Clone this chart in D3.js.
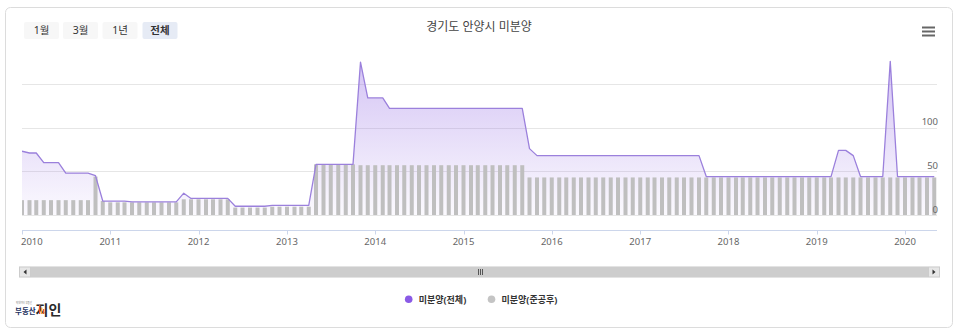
<!DOCTYPE html>
<html>
<head>
<meta charset="utf-8">
<script src="https://cdn.jsdelivr.net/npm/d3@7"></script>
<style>
  html, body { margin: 0; padding: 0; background: #fff; }
  svg { display: block; font-family: "Noto Sans", "Noto Sans CJK KR", sans-serif; }
</style>
</head>
<body>
<svg id="chart" width="960" height="336"></svg>
<script>
// ---- data -------------------------------------------------------------
const chartTitle = "경기도 안양시 미분양";
const rangeButtons = ["1월", "3월", "1년", "전체"];
const seriesNames = ["미분양(전체)", "미분양(준공후)"];

// monthly unsold housing units, 2010-01 .. 2020-05
const totalUnsold = [
  73, 71, 71, 60, 60, 60, 48, 48, 48, 48, 45, 16,          // 2010
  16, 16, 16, 15, 15, 15, 15, 15, 15, 15, 25, 19,          // 2011
  19, 19, 19, 19, 19, 10, 10, 10, 10, 10, 11, 11,          // 2012
  11, 11, 11, 11, 58, 58, 58, 58, 58, 58, 175, 134,        // 2013
  134, 134, 122, 122, 122, 122, 122, 122, 122, 122, 122, 122, // 2014
  122, 122, 122, 122, 122, 122, 122, 122, 122, 76, 68, 68, // 2015
  68, 68, 68, 68, 68, 68, 68, 68, 68, 68, 68, 68,          // 2016
  68, 68, 68, 68, 68, 68, 68, 68, 68, 44, 44, 44,          // 2017
  44, 44, 44, 44, 44, 44, 44, 44, 44, 44, 44, 44,          // 2018
  44, 44, 44, 74, 74, 68, 44, 44, 44, 44, 176, 44,         // 2019
  44, 44, 44, 44, 44                                       // 2020
];
const completedUnsold = [
  17, 17, 17, 17, 17, 17, 17, 17, 17, 17, 44, 16,          // 2010
  14.5, 14.5, 14.5, 14.5, 14.5, 14.5, 14.5, 14.5, 14.5, 14.5, 18, 18, // 2011
  18, 18, 18, 18, 18, 8.5, 8.5, 8.5, 8.5, 8.5, 9.5, 9.5,  // 2012
  9.5, 9.5, 9.5, 9.5, 58, 58, 58, 58, 58, 58, 57, 57,      // 2013
  57, 57, 57, 57, 57, 57, 57, 57, 57, 57, 57, 57,          // 2014
  57, 57, 57, 57, 57, 57, 57, 57, 57, 43, 43, 43,          // 2015
  43, 43, 43, 43, 43, 43, 43, 43, 43, 43, 43, 43,          // 2016
  43, 43, 43, 43, 43, 43, 43, 43, 43, 43, 43, 43,          // 2017
  43, 43, 43, 43, 43, 43, 43, 43, 43, 43, 43, 43,          // 2018
  43, 43, 43, 43, 43, 43, 43, 43, 43, 43, 43, 43,          // 2019
  43, 43, 43, 43, 43                                       // 2020
];
const yearTicks = [2010, 2011, 2012, 2013, 2014, 2015, 2016, 2017, 2018, 2019, 2020];
const yGridValues = [0, 50, 100, 150];
const yLabelValues = [0, 50, 100];

const months = d3.utcMonth.range(new Date(Date.UTC(2010, 0, 1)), new Date(Date.UTC(2020, 5, 1)));
const rows = months.map((m, i) => ({ date: m, total: totalUnsold[i], done: completedUnsold[i] }));

// ---- layout -----------------------------------------------------------
const svg = d3.select("#chart");
const plot = { left: 22, right: 937, top: 40, axisY: 230.5 };

const x = d3.scaleUtc()
  .domain([new Date(Date.UTC(2010, 0, 1)), new Date(Date.UTC(2020, 0, 1))])
  .range([22, 905]);
const y = d3.scaleLinear().domain([0, 150]).range([215, 84]);

// card
svg.append("rect")
  .attr("x", 5.5).attr("y", 7.5).attr("width", 947).attr("height", 320)
  .attr("rx", 5).attr("fill", "#fff").attr("stroke", "#dcdcdc");

// range selector buttons
const btnX = [24, 63, 102.5, 142.5];
rangeButtons.forEach((label, i) => {
  const selected = i === rangeButtons.length - 1;
  const g = svg.append("g").attr("transform", `translate(${btnX[i]},22)`);
  g.append("rect").attr("width", 35).attr("height", 17).attr("rx", 2)
    .attr("fill", selected ? "#e6ebf5" : "#f7f7f7");
  g.append("text").attr("x", 17.5).attr("y", 12.3).attr("text-anchor", "middle")
    .attr("font-size", 10.5).attr("font-weight", selected ? "bold" : "normal")
    .attr("fill", "#333").text(label);
});

// title
svg.append("text").attr("x", 479).attr("y", 31).attr("text-anchor", "middle")
  .attr("font-size", 12).attr("fill", "#444").text(chartTitle);

// context menu icon
[27.5, 31.5, 35.5].forEach(yy => {
  svg.append("line").attr("x1", 922).attr("x2", 935).attr("y1", yy).attr("y2", yy)
    .attr("stroke", "#666").attr("stroke-width", 2);
});

// gradient for the total area
const defs = svg.append("defs");
const grad = defs.append("linearGradient").attr("id", "areaFill")
  .attr("gradientUnits", "userSpaceOnUse")
  .attr("x1", 0).attr("x2", 0).attr("y1", y(175)).attr("y2", y(0));
grad.append("stop").attr("offset", 0).attr("stop-color", "#9a74e6").attr("stop-opacity", 0.42);
grad.append("stop").attr("offset", 1).attr("stop-color", "#9a74e6").attr("stop-opacity", 0.04);

defs.append("clipPath").attr("id", "plotClip").append("rect")
  .attr("x", plot.left).attr("y", plot.top)
  .attr("width", plot.right - plot.left).attr("height", plot.axisY - plot.top);

// grid lines
svg.append("g").selectAll("line").data(yGridValues).join("line")
  .attr("x1", plot.left).attr("x2", plot.right)
  .attr("y1", d => Math.round(y(d)) + 0.5).attr("y2", d => Math.round(y(d)) + 0.5)
  .attr("stroke", "#e6e6e6");

const layer = svg.append("g").attr("clip-path", "url(#plotClip)");

// total area
layer.append("path").datum(rows)
  .attr("fill", "url(#areaFill)")
  .attr("d", d3.area().x(d => x(d.date)).y0(y(0)).y1(d => y(d.total)));

// completed-unsold columns
layer.append("g").selectAll("rect").data(rows).join("rect")
  .attr("x", d => x(d.date) - 2).attr("width", 4)
  .attr("y", d => y(d.done)).attr("height", d => y(0) - y(d.done))
  .attr("fill", "#bfbfbf");

// total line
layer.append("path").datum(rows)
  .attr("fill", "none").attr("stroke", "#9b80dc").attr("stroke-width", 1.3)
  .attr("stroke-linejoin", "round")
  .attr("d", d3.line().x(d => x(d.date)).y(d => y(d.total)));

// y labels (right side)
svg.append("g").selectAll("text").data(yLabelValues).join("text")
  .attr("x", 938).attr("y", d => y(d) - 2.3).attr("text-anchor", "end")
  .attr("font-size", 9.5).attr("fill", "#666").text(d => d);

// x axis
svg.append("line").attr("x1", plot.left).attr("x2", plot.right)
  .attr("y1", plot.axisY).attr("y2", plot.axisY).attr("stroke", "#ccd6eb");
const yearDates = yearTicks.map(yr => new Date(Date.UTC(yr, 0, 1)));
svg.append("g").selectAll("line").data(yearDates).join("line")
  .attr("x1", d => Math.round(x(d)) + 0.5).attr("x2", d => Math.round(x(d)) + 0.5)
  .attr("y1", plot.axisY).attr("y2", plot.axisY + 4).attr("stroke", "#ccd6eb");
svg.append("g").selectAll("text").data(yearDates).join("text")
  .attr("x", (d, i) => i === 0 ? x(d) - 1 : x(d))
  .attr("y", 245)
  .attr("text-anchor", (d, i) => i === 0 ? "start" : "middle")
  .attr("font-size", 9.5).attr("fill", "#666")
  .text(d => d3.utcFormat("%Y")(d));

// scrollbar
const sb = svg.append("g");
sb.append("rect").attr("x", 19).attr("y", 266.5).attr("width", 921).attr("height", 11).attr("fill", "#f2f2f2");
sb.append("rect").attr("x", 31).attr("y", 266.5).attr("width", 897).attr("height", 11).attr("fill", "#cdcdcd");
sb.append("rect").attr("x", 19.5).attr("y", 267).attr("width", 11).attr("height", 10)
  .attr("fill", "#e6e6e6").attr("stroke", "#cccccc");
sb.append("rect").attr("x", 928.5).attr("y", 267).attr("width", 11).attr("height", 10)
  .attr("fill", "#e6e6e6").attr("stroke", "#cccccc");
sb.append("path").attr("d", "M26.5,269.5 L23.5,272 L26.5,274.5 Z").attr("fill", "#333");
sb.append("path").attr("d", "M932.5,269.5 L935.5,272 L932.5,274.5 Z").attr("fill", "#333");
[478, 480, 482].forEach(gx => {
  sb.append("line").attr("x1", gx + 0.5).attr("x2", gx + 0.5).attr("y1", 269).attr("y2", 275)
    .attr("stroke", "#555").attr("stroke-width", 1);
});

// legend
const legendColors = ["#8a5ae6", "#c4c4c4"];
const legendDotX = [408.7, 491.5];
seriesNames.forEach((name, i) => {
  svg.append("circle").attr("cx", legendDotX[i]).attr("cy", 299.2).attr("r", 3.8)
    .attr("fill", legendColors[i]);
  svg.append("text").attr("x", legendDotX[i] + 10).attr("y", 302.5)
    .attr("font-size", 9).attr("font-weight", "bold").attr("fill", "#333").text(name);
});

// brand mark
const logo = svg.append("g");
logo.append("text").attr("x", 16).attr("y", 303.5).attr("font-size", 3)
  .attr("textLength", 16).attr("lengthAdjust", "spacingAndGlyphs")
  .attr("fill", "#777").text("빅데이터 부동산");
logo.append("text").attr("x", 15).attr("y", 314).attr("font-size", 7.5).attr("font-weight", "bold")
  .attr("fill", "#23325f").text("부동산");
logo.append("text").attr("x", 35.5).attr("y", 315).attr("font-size", 14).attr("font-weight", "bold")
  .attr("fill", "#2a2a2a").text("지인");
[["#e8542f", 305], ["#f2a23a", 307.5], ["#e8542f", 309]].forEach(([c, yy], i) => {
  logo.append("rect").attr("x", 39 + i * 2).attr("y", yy).attr("width", 1.3).attr("height", 314 - yy)
    .attr("fill", c);
});
</script>
</body>
</html>
